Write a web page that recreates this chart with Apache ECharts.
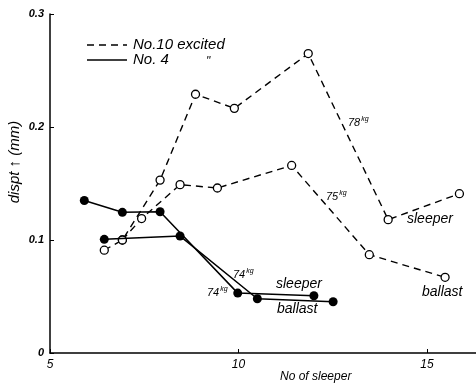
<!DOCTYPE html>
<html><head><meta charset="utf-8">
<script src="https://cdn.jsdelivr.net/npm/echarts@6/dist/echarts.min.js"></script>
<style>html,body{margin:0;padding:0;background:#fff}#c{width:476px;height:385px}</style>
</head><body><div id="c"></div>
<script>
// No.10 excited (dashed, open circles)
const sleeper78 = [[6.44,0.091],[6.92,0.100],[7.92,0.153],[8.86,0.229],[9.89,0.2165],[11.85,0.265],[13.97,0.118],[15.86,0.141]];
const ballast75 = [[6.92,0.100],[7.43,0.119],[8.45,0.149],[9.44,0.146],[11.41,0.166],[13.47,0.087],[15.48,0.067]];
// No. 4 (solid, filled circles)
const sleeper74 = [[5.91,0.135],[6.92,0.1245],[7.92,0.125],[9.98,0.053],[12.0,0.0507]];
const ballast74 = [[6.44,0.1006],[8.45,0.1035],[10.5,0.048],[12.51,0.0454]];
const xTicks = [5,10,15];
const yTicks = [0,0.1,0.2,0.3];

const F = 'Liberation Sans';
const chart = echarts.init(document.getElementById('c'));
function dashed(name, data){
  return {name, type:'line', data, symbol:'circle', symbolSize:8, z:3,
    lineStyle:{color:'#000', width:1.4, type:[7,5]},
    itemStyle:{color:'#fff', borderColor:'#000', borderWidth:1.3}, animation:false};
}
function solid(name, data){
  return {name, type:'line', data, symbol:'circle', symbolSize:9, z:4,
    lineStyle:{color:'#000', width:1.5},
    itemStyle:{color:'#000', borderColor:'#000', borderWidth:0}, animation:false};
}
function kgText(x,y,n){
  return {type:'text', left:x, top:y, z:10, style:{text:'{a|'+n+'}{b|kg}', rich:{a:{fontFamily:F,fontStyle:'italic',fontSize:11,color:'#000'}, b:{fontFamily:F,fontStyle:'italic',fontSize:7,color:'#000',padding:[0,0,6,1]}}}};
}
function txt(x,y,s,size){
  return {type:'text', left:x, top:y, z:10, style:{text:s, font:'italic '+size+'px '+F, fill:'#000'}};
}
chart.setOption({
  animation:false,
  grid:{left:50, right:0, top:14, bottom:32},
  xAxis:{type:'value', min:5, max:16.3, interval:5,
    axisLine:{lineStyle:{color:'#000', width:1.5}},
    axisTick:{inside:true, length:4, lineStyle:{color:'#000'}},
    splitLine:{show:false},
    axisLabel:{showMaxLabel:false, color:'#000', fontFamily:F, fontStyle:'italic', fontSize:12, margin:6,
      formatter:v=>xTicks.includes(v)?String(v):''}},
  yAxis:{type:'value', min:0, max:0.3, interval:0.1,
    axisLine:{show:true, lineStyle:{color:'#000', width:1.5}},
    axisTick:{show:true, inside:true, length:4, lineStyle:{color:'#000'}},
    splitLine:{show:false},
    axisLabel:{color:'#000', fontFamily:F, fontStyle:'italic', fontWeight:'bold', fontSize:11, margin:6,
      formatter:v=>{const r=Math.round(v*10)/10; return yTicks.includes(r)?(r===0?'0':r.toFixed(1)):'';}}},
  series:[dashed('No.10 excited', sleeper78), dashed('No.10 excited 75', ballast75),
          solid('No. 4 sleeper', sleeper74), solid('No. 4 ballast', ballast74)],
  graphic:[
    {type:'line', shape:{x1:87,y1:45,x2:127,y2:45}, style:{stroke:'#000', lineWidth:1.4, lineDash:[7,5]}},
    {type:'line', shape:{x1:87,y1:60,x2:127,y2:60}, style:{stroke:'#000', lineWidth:1.5}},
    txt(133,37,'No.10 excited',15),
    txt(133,52,'No. 4',15),
    txt(206,56,'"',12),
    kgText(348,116,'78'),
    kgText(326,190,'75'),
    kgText(233,268,'74'),
    kgText(207,286,'74'),
    txt(407,212,'sleeper',14),
    txt(422,285,'ballast',14),
    txt(276,277,'sleeper',14),
    txt(277,302,'ballast',14),
    txt(280,371,'No of sleeper',12),
    {type:'text', x:15, y:162, rotation:Math.PI/2, z:10,
      style:{text:'dispt \u2191 (mm)', font:'italic 15px '+F, fill:'#000', align:'center', verticalAlign:'middle'}}
  ]
});
</script></body></html>
